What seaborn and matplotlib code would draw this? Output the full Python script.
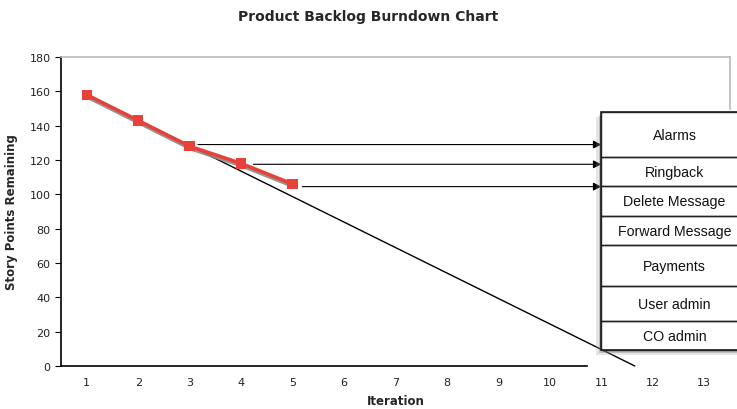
import matplotlib
matplotlib.use("Agg")
import matplotlib.pyplot as plt
import matplotlib.patheffects as pe
from matplotlib.patches import Rectangle
import seaborn as sns

# chart data
iterations = [1, 2, 3, 4, 5]
points_remaining = [158, 143, 128, 118, 106]
tick_labels = [str(i) for i in range(1, 14)]

# hand drawn trend line (start / end)
trend_x = [1, 11.65]
trend_y = [158, 0]

# arrows from the burndown line to the backlog list
arrow_x_start = [3.16, 4.24, 5.19]
arrow_y = [129, 117.5, 104.5]

# backlog items with top/bottom edges (story points)
backlog_items = ['Alarms', 'Ringback', 'Delete Message', 'Forward Message',
                 'Payments', 'User admin', 'CO admin']
backlog_tops = [148.1, 121.5, 105.0, 87.2, 70.6, 46.4, 26.0]
backlog_bottoms = [121.5, 105.0, 87.2, 70.6, 46.4, 26.0, 9.5]

sns.set_style("white")
plt.rcParams['font.family'] = ['DejaVu Sans']

fig = plt.figure(figsize=(7.37, 4.10), dpi=100)
ax = fig.add_axes([0.0828, 0.1049, 0.9077, 0.7536])

# trend line
ax.plot(trend_x, trend_y, color='black', linewidth=1, zorder=2, clip_on=False)

# burndown line with a soft shadow
sns.lineplot(x=iterations, y=points_remaining, ax=ax, color='#E8413A',
             linewidth=2.6, marker='s', markersize=7.5, markeredgewidth=0,
             zorder=3)
for ln in ax.lines[1:]:
    ln.set_path_effects([pe.SimpleLineShadow(offset=(0.8, -1.8), shadow_color='#888888', alpha=0.9),
                         pe.Normal()])

# arrows to backlog items
for xs, ys in zip(arrow_x_start, arrow_y):
    ax.annotate('', xy=(11, ys), xytext=(xs, ys),
                arrowprops=dict(arrowstyle='-|>', color='black', lw=0.8,
                                mutation_scale=12, shrinkA=0, shrinkB=0),
                zorder=4)

# backlog list box
box_left, box_right = 11, 13.85
outer = Rectangle((box_left, backlog_bottoms[-1]), box_right - box_left,
                  backlog_tops[0] - backlog_bottoms[-1], facecolor='white',
                  edgecolor='#222222', linewidth=1.2, clip_on=False, zorder=5)
outer.set_path_effects([pe.SimplePatchShadow(offset=(-3.5, -4), shadow_rgbFace='#999999', alpha=0.25),
                        pe.SimplePatchShadow(offset=(-2, -2.5), shadow_rgbFace='#777777', alpha=0.35),
                        pe.Normal()])
ax.add_patch(outer)
for name, top, bot in zip(backlog_items, backlog_tops, backlog_bottoms):
    ax.add_patch(Rectangle((box_left, bot), box_right - box_left, top - bot,
                           facecolor='none', edgecolor='#222222', linewidth=1,
                           clip_on=False, zorder=6))
    ax.text((box_left + box_right) / 2, (top + bot) / 2, name,
            ha='center', va='center', fontsize=10.2,
            family='Liberation Sans', color='#111111', zorder=7, clip_on=False)

# axes formatting
ax.set_xlim(0.5, 13.5)
ax.set_ylim(0, 180)
ax.set_yticks(range(0, 181, 20))
ax.set_xticks(range(1, 14))
ax.set_xticklabels(tick_labels)
ax.set_xticks([i + 0.5 for i in range(0, 14)], minor=True)
ax.tick_params(axis='x', which='major', length=0, pad=8, labelsize=8, colors='#222222')
ax.tick_params(axis='x', which='minor', length=4, width=0.8, direction='out', color='black')
ax.tick_params(axis='y', length=4, width=0.8, direction='out', labelsize=8,
               colors='#222222', left=True)
ax.tick_params(axis='y', color='black')

for side in ['left', 'bottom']:
    ax.spines[side].set_color('black')
    ax.spines[side].set_linewidth(1.2)
for side in ['top', 'right']:
    ax.spines[side].set_color('#BBBBBB')
    ax.spines[side].set_linewidth(1.2)
ax.spines['bottom'].set_bounds(0.5, 10.73)
ax.spines['right'].set_bounds(150, 180)

ax.set_xlabel('Iteration', fontsize=8.5, fontweight='bold', labelpad=5)
ax.set_ylabel('Story Points Remaining', fontsize=8.5, fontweight='bold', labelpad=8)
fig.suptitle('Product Backlog Burndown Chart', fontsize=10, fontweight='bold', y=0.975)

fig.savefig('out.png', dpi=100)
